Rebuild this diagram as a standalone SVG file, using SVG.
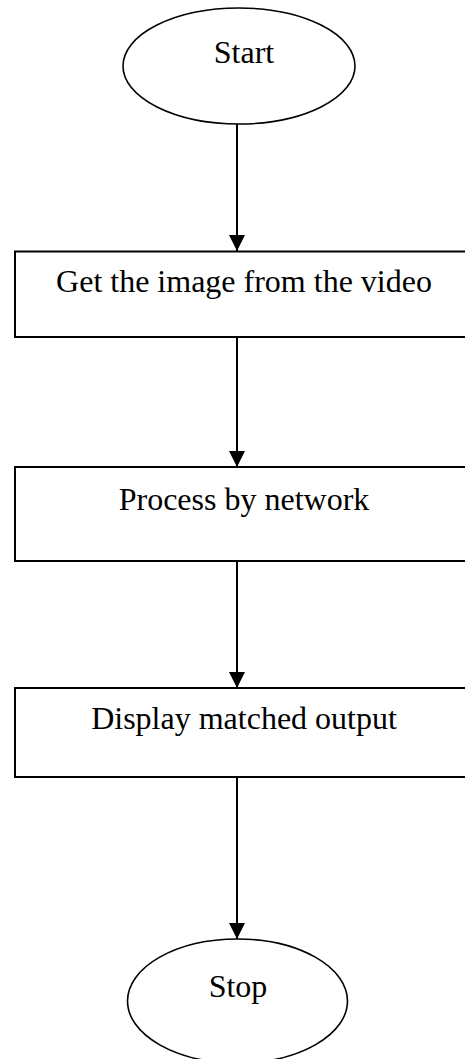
<svg xmlns="http://www.w3.org/2000/svg" width="465" height="1059" viewBox="0 0 465 1059">
  <style>
    .shape { fill: #ffffff; stroke: #000000; stroke-width: 2; }
    .term { fill: #ffffff; stroke: #000000; stroke-width: 1.6; }
    .label { font-family: "Liberation Serif", "Times New Roman", serif; font-size: 32px; fill: #000000; text-anchor: middle; }
    .flow { stroke: #000000; stroke-width: 2; fill: none; marker-end: url(#arrow); }
  </style>
  <defs>
    <marker id="arrow" viewBox="0 0 16 16" refX="16" refY="8" markerWidth="16" markerHeight="16" markerUnits="userSpaceOnUse" orient="auto">
      <path d="M0,0 L16,8 L0,16 Z" fill="#000000"/>
    </marker>
  </defs>
  <rect width="465" height="1059" fill="#ffffff"/>

  <g id="start">
    <ellipse class="term" cx="239" cy="66" rx="116" ry="58"/>
    <text class="label" x="244" y="63">Start</text>
  </g>

  <g id="get-image">
    <rect class="shape" x="15" y="251.5" width="460" height="85.5"/>
    <text class="label" x="244" y="292">Get the image from the video</text>
  </g>

  <g id="process">
    <rect class="shape" x="15" y="467" width="460" height="94"/>
    <text class="label" x="244" y="510">Process by network</text>
  </g>

  <g id="display">
    <rect class="shape" x="15" y="688" width="460" height="89"/>
    <text class="label" x="244" y="729">Display matched output</text>
  </g>

  <g id="stop">
    <ellipse class="term" cx="237.5" cy="1001" rx="110" ry="62"/>
    <text class="label" x="238" y="997">Stop</text>
  </g>

  <g id="connectors">
    <line class="flow" x1="237" y1="124" x2="237" y2="251"/>
    <line class="flow" x1="237" y1="337" x2="237" y2="467"/>
    <line class="flow" x1="237" y1="561" x2="237" y2="688"/>
    <line class="flow" x1="237" y1="777" x2="237" y2="939"/>
  </g>
</svg>
